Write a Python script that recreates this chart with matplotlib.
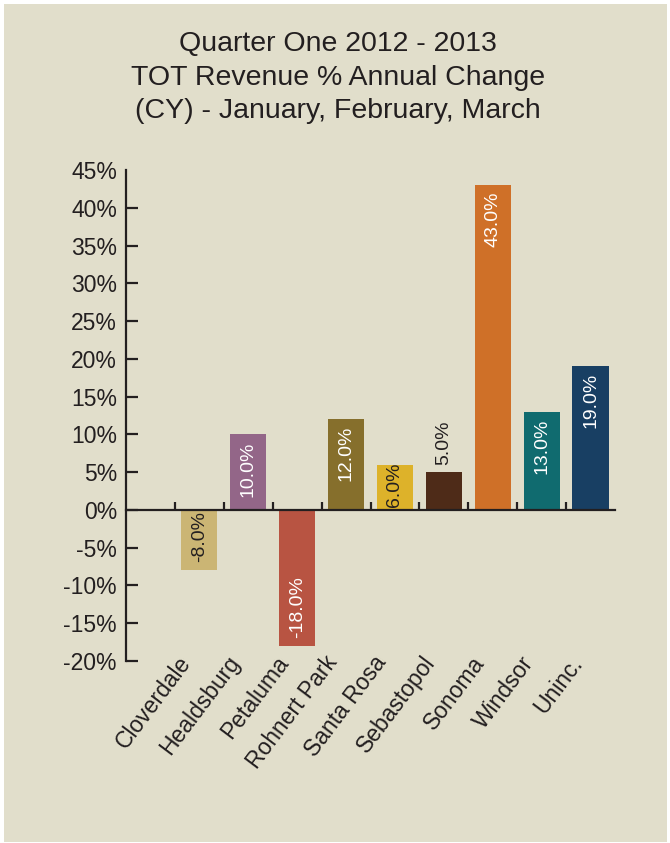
"""
Quarter One 2012 - 2013 TOT revenue % annual change by city.
Recreated bar chart with rotated in-bar value labels.

Output: out.png
"""

import matplotlib.pyplot as plt
from matplotlib.patches import Rectangle

plt.rcParams["font.family"] = ["Liberation Sans", "DejaVu Sans"]

# ---------------------------------------------------------------------------
# Data
# ---------------------------------------------------------------------------

cities = ["Cloverdale", "Healdsburg", "Petaluma", "Rohnert Park", "Santa Rosa",
          "Sebastopol", "Sonoma", "Windsor", "Uninc."]
pct_change = [-8.0, 10.0, -18.0, 12.0, 6.0, 5.0, 43.0, 13.0, 19.0]
y_ticks = [-20, -15, -10, -5, 0, 5, 10, 15, 20, 25, 30, 35, 40, 45]

BAR_COLORS = ["#CBB574", "#936688", "#B85442", "#866F2C", "#DDB22A",
              "#4E2B18", "#CF7028", "#106B6F", "#183F63"]
DARK_LABELS = {"Cloverdale", "Santa Rosa", "Sebastopol"}
OUTSIDE_LABELS = {"Sebastopol"}

BG = "#E1DECB"
INK = "#231F20"


def main():
    fig = plt.figure(figsize=(6.7, 8.43), dpi=100, facecolor="white")
    # beige panel with a thin white border
    fig.patches.append(Rectangle((4 / 670, 1 / 843), 663 / 670, 838 / 843,
                                 transform=fig.transFigure, facecolor=BG,
                                 edgecolor="none", zorder=-5))

    ax = fig.add_axes([126 / 670, 1 - 661 / 843, 489 / 670, 491 / 843])
    ax.set_facecolor("none")
    ax.set_zorder(2)

    xs = list(range(len(cities)))
    ax.bar(xs, pct_change, width=0.74, color=BAR_COLORS, zorder=2)

    # value labels, rotated, at the inside end of each bar
    for x, v, name in zip(xs, pct_change, cities):
        col = INK if name in DARK_LABELS else "white"
        txt = f"{v:.1f}%"
        pad = 0.9 if abs(v) > 8 else -0.3
        if name in OUTSIDE_LABELS:
            ax.text(x, v + 1.0, txt, rotation=90, ha="center", va="bottom",
                    color=col, fontsize=14, zorder=3)
        elif v >= 0:
            ax.text(x, v - pad, txt, rotation=90, ha="center", va="top",
                    color=col, fontsize=14, zorder=3)
        else:
            ax.text(x, v + 1.1, txt, rotation=90, ha="center", va="bottom",
                    color=col, fontsize=14, zorder=3)

    ax.set_xlim(-1.5, len(cities) - 0.5)
    ax.set_ylim(-20, 45)

    # spines: left axis + zero line
    for side in ("top", "right"):
        ax.spines[side].set_visible(False)
    ax.spines["left"].set_linewidth(1.6)
    ax.spines["left"].set_color(INK)
    ax.spines["bottom"].set_position(("data", 0))
    ax.spines["bottom"].set_linewidth(1.6)
    ax.spines["bottom"].set_color(INK)
    ax.spines["bottom"].set_zorder(4)

    ax.set_yticks(y_ticks)
    ax.set_yticklabels([f"{t}%" for t in y_ticks])
    ax.tick_params(axis="y", direction="in", length=8.5, width=1.6,
                   color=INK, labelsize=16.5, labelcolor=INK, pad=6.5)
    ax.yaxis.get_major_ticks()[-1].tick1line.set_visible(False)

    ax.set_xticks([x - 0.5 for x in xs])
    ax.set_xticklabels([])
    ax.tick_params(axis="x", direction="in", length=6, width=1.6, color=INK)

    # category labels below the plot
    for x, name in zip(xs, cities):
        ax.text(x - 0.45, -18.8, name, rotation=53, rotation_mode="anchor",
                ha="right", va="top", fontsize=16.5, color=INK)

    fig.text(0.505, 1 - 31 / 843,
             "Quarter One 2012 - 2013\nTOT Revenue % Annual Change\n"
             "(CY) - January, February, March",
             ha="center", va="top", fontsize=20.5, color=INK, linespacing=1.38)

    fig.savefig("out.png", dpi=100, facecolor="white")
    plt.close(fig)


if __name__ == "__main__":
    main()
